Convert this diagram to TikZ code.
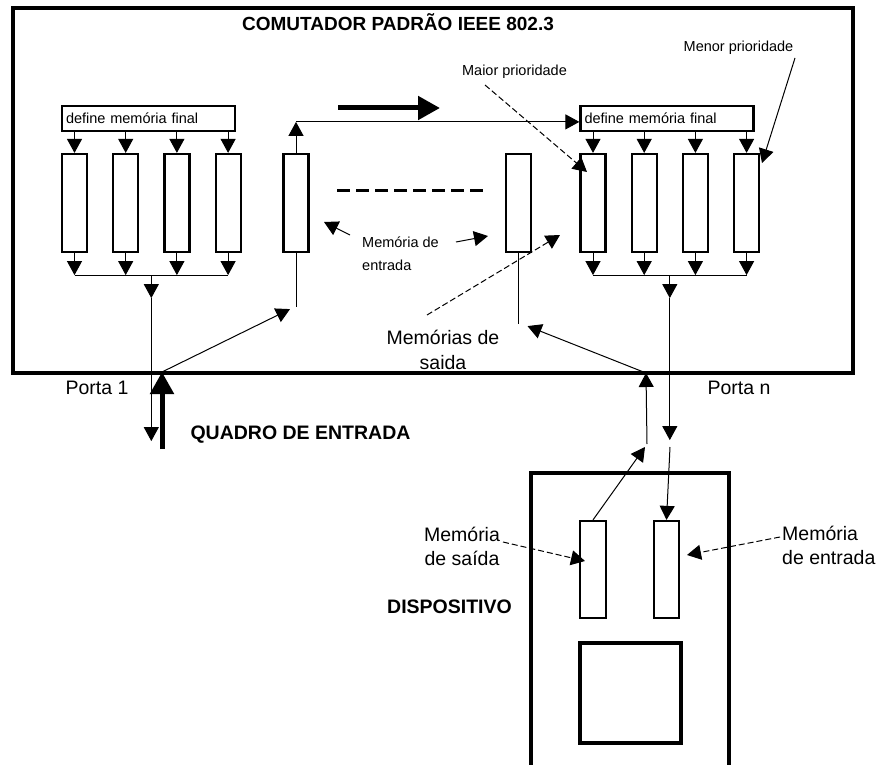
\documentclass[tikz,border=0pt]{standalone}
\usepackage{fontspec}
\setmainfont{Liberation Sans}
\usetikzlibrary{arrows.meta,positioning,calc}

\begin{document}
\begin{tikzpicture}[x=1pt,y=-1pt,font=\fontsize{19.5}{24}\selectfont,
  peq/.style={font=\fontsize{14.5}{23}\selectfont},
  negrito/.style={font=\fontsize{19.5}{24}\selectfont\bfseries},
  mem/.style={draw,line width=2.2pt,minimum width=25pt,minimum height=98pt,inner sep=0pt},
  defmem/.style={draw,line width=2.2pt,text width=165pt,inner xsep=4pt,inner ysep=0pt,minimum height=25pt,align=left,font=\fontsize{14.5}{17}\selectfont},
  seta/.style={line width=1pt,-{Triangle[length=14pt,width=15pt]}},
  tracejada/.style={seta,dash pattern=on 6pt off 3pt},
  grossa/.style={line width=5pt,-{Triangle[length=22pt,width=23pt]}}]
\useasboundingbox (0,0) rectangle (876,765);
% comutador
\node[draw,line width=3.4pt,minimum width=840pt,minimum height=365pt,inner sep=0pt] (sw) at (433,190.5) {};
\node[font=\fontsize{19}{23}\selectfont\bfseries] (titulo) at (398,22) {COMUTADOR PADRÃO IEEE 802.3};
% porta 1
\node[defmem] (defE) at (148.5,118.5) {define memória final};
\node[mem] (qE1) at (74.5,203) {};
\node[mem,right=24pt of qE1] (qE2) {};
\node[mem,right=24pt of qE2] (qE3) {};
\node[mem,right=24pt of qE3] (qE4) {};
\node[mem] (entE) at (296,203) {};
% porta n
\node[mem] (entD) at (518.5,203) {};
\node[defmem] (defD) at (667,118.5) {define memória final};
\node[mem] (qD1) at (593,203) {};
\node[mem,right=24pt of qD1] (qD2) {};
\node[mem,right=24pt of qD2] (qD3) {};
\node[mem,right=24pt of qD3] (qD4) {};
\draw[seta] (defE.south -| qE1) -- (qE1.north);
\draw[seta] (defE.south -| qE2) -- (qE2.north);
\draw[seta] (defE.south -| qE3) -- (qE3.north);
\draw[seta] (defE.south -| qE4) -- (qE4.north);
\draw[seta] (defD.south -| qD1) -- (qD1.north);
\draw[seta] (defD.south -| qD2) -- (qD2.north);
\draw[seta] (defD.south -| qD3) -- (qD3.north);
\draw[seta] (defD.south -| qD4) -- (qD4.north);
\coordinate (barE) at ($(qE1.south)!.5!(qE4.south)+(0,22)$);
\coordinate (barD) at ($(qD1.south)!.5!(qD4.south)+(0,22)$);
\draw[seta] (qE1.south) -- (qE1.south |- barE);
\draw[seta] (qE2.south) -- (qE2.south |- barE);
\draw[seta] (qE3.south) -- (qE3.south |- barE);
\draw[seta] (qE4.south) -- (qE4.south |- barE);
\draw[line width=1pt] (qE1.south |- barE) -- (qE4.south |- barE);
\draw[seta] (qD1.south) -- (qD1.south |- barD);
\draw[seta] (qD2.south) -- (qD2.south |- barD);
\draw[seta] (qD3.south) -- (qD3.south |- barD);
\draw[seta] (qD4.south) -- (qD4.south |- barD);
\draw[line width=1pt] (qD1.south |- barD) -- (qD4.south |- barD);
\draw[seta] (barE) -- ++(0,23) coordinate (barE2);
\draw[seta] (barE2) -- ++(0,143);
\draw[seta] (barD) -- ++(0,23) coordinate (barD2);
\draw[seta] (barD2) -- ++(0,142);
% caminho do quadro
\path (entE.north) ++(0,-31) coordinate (topo);
\draw[seta] (entE.north) -- (topo);
\draw[seta] (topo) -- (topo -| defD.west);
\draw[grossa] (338,108) -- (440,108);
\draw[line width=3pt,dash pattern=on 13pt off 6pt] (337,191) -- (485,191);
\draw[line width=1pt] (entE.south) -- ++(0,54) coordinate (entE2);
\draw[line width=1pt] (entD.south) -- ++(0,71) coordinate (entD2);
\coordinate (p1) at (162,372);
\coordinate (pn) at (646,373);
\coordinate (quadro) at (162,449);
\draw[grossa] (quadro) -- (p1);
\draw[seta] (p1) -- ($(entE2)+(-6,2)$);
\draw[seta] (pn) -- ($(entD2)+(9,2)$);
% rotulos do comutador
\node (porta1) at (97,388) {Porta 1};
\node (portan) at (739,388) {Porta n};
\node[negrito] (quad) at (300.5,435) {QUADRO DE ENTRADA};
\node[peq,align=left,anchor=west,inner sep=0pt] (rotEnt) at (362,253.5) {Memória de\\entrada};
\draw[seta] (350,235) -- (324,222);
\draw[seta] (456,242) -- (488,236);
\node[align=center,font=\fontsize{19.5}{25}\selectfont] (rotSai) at (443,349.5) {Memórias de\\saida};
\draw[tracejada] (427,315) -- (560,235);
\node[peq] (maior) at (514.5,72) {Maior prioridade};
\draw[tracejada] (485,85) -- (587,172);
\node[peq] (menor) at (738.5,48) {Menor prioridade};
\draw[seta] (795,58) -- (762,163);
% dispositivo
\draw[line width=3.2pt] (531,775) |- (729,473) -- (729,775);
\node[mem,minimum width=26pt,minimum height=97pt] (saiDisp) at (593,569.5) {};
\node[mem,minimum height=97pt] (entDisp) at (666.5,569.5) {};
\node[draw,line width=3.2pt,minimum width=101pt,minimum height=100pt] (cpu) at (630.5,693) {};
\coordinate (sobe) at (647,444);
\coordinate (desce) at (670,447);
\draw[seta] (sobe) -- (pn);
\draw[seta] (saiDisp.north) -- ($(sobe)+(-2,3)$);
\draw[seta] (desce) -- (entDisp.north);
\node[align=center] (rotSaiDisp) at (462,546) {Memória\\de saída};
\draw[tracejada] (503,542) -- (585,561);
\node[align=left,anchor=west,inner sep=0pt] (rotEntDisp) at (782,545) {Memória\\de entrada};
\draw[tracejada] (780,537) -- (687,555);
\node[negrito] (disp) at (449.5,607) {DISPOSITIVO};
\end{tikzpicture}
\end{document}
